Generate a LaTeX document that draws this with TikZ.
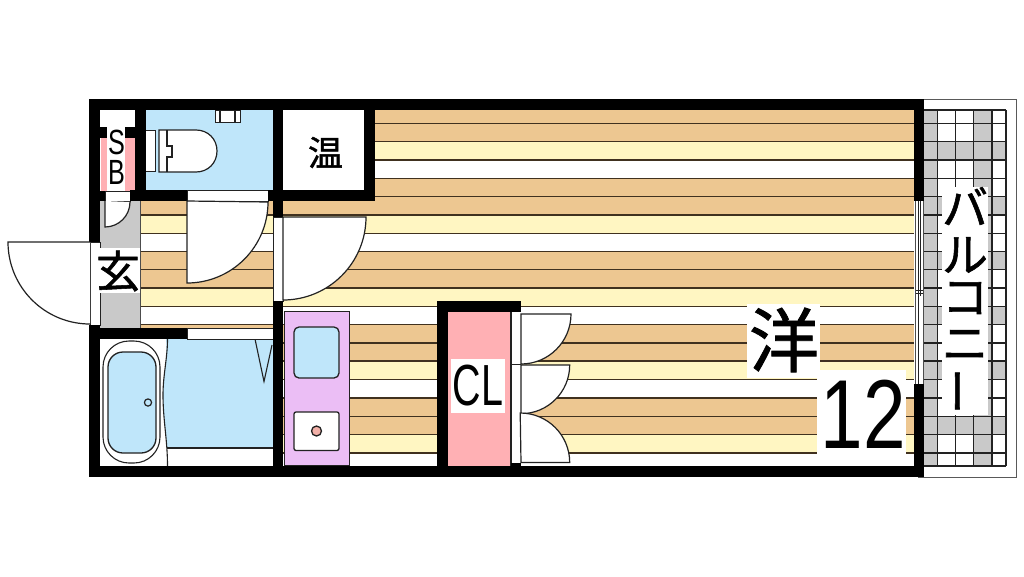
\documentclass[tikz,border=0pt]{standalone}
\usepackage{graphicx}
\usepackage{fontspec}
\setmainfont{Liberation Sans}
\newfontfamily\jpfont[FakeBold=1.2]{Noto Sans CJK JP}
\definecolor{tan}{HTML}{EDC791}
\definecolor{cream}{HTML}{FFF6C2}
\definecolor{brownline}{HTML}{40311F}
\definecolor{skyb}{HTML}{BFE6FA}
\definecolor{grayf}{HTML}{C9C9C9}
\definecolor{pinkf}{HTML}{FFB0B4}
\definecolor{purplef}{HTML}{EBBEF5}
\definecolor{burner}{HTML}{F2B0A8}
\definecolor{linec}{HTML}{222222}
\tikzset{
  wall/.style={fill=black,draw=none},
  thin line/.style={draw=linec,line width=1.1pt},
  door/.style={fill=white,draw=linec,line width=1.2pt},
  frame/.style={fill=white,draw=linec,line width=0.9pt},
  label/.style={inner sep=0pt,outer sep=0pt,text=black},
  bg/.style={fill=white,draw=none}
}
\begin{document}
\begin{tikzpicture}[x=1pt,y=-1pt]
\useasboundingbox[fill=white] (0,0) rectangle (1024,576);
% floor stripes
\foreach \a/\b/\c in {110/141.7/tan,141.7/160/cream,160/178.2/white,178.2/215/tan,215/233.2/cream,233.2/251.5/white,251.5/288/tan,288/306.5/cream,306.5/324.5/white,324.5/361/tan,361/379.3/cream,379.3/398/white,398/434.7/tan,434.7/453/cream,453/466/white}
  \fill[\c] (140,\a) rectangle (914,\b);
\foreach \y in {123.5,141.7,160,178.2,196.6,215,233.2,251.5,269.5,288,306.5,324.5,343,361,379.3,398,416.3,434.7,453}
  \draw[brownline,line width=1.2pt] (140,\y) -- (914,\y);
% balcony
\draw[fill=white,draw=gray!70!black,line width=0.9pt] (918,99) rectangle (1016,477);
\foreach \xa/\xb in {924/937.7,973.7/992}
  \fill[grayf] (\xa,110) rectangle (\xb,466);
\foreach \a/\b in {141.7/160,196.6/215,251.5/269.5,306.5/324.5,361/379.3,416.3/434.7}
  \fill[grayf] (924,\a) rectangle (1006,\b);
\foreach \y in {110,123.5,141.7,160,178.2,196.6,215,233.2,251.5,269.5,288,306.5,324.5,343,361,379.3,398,416.3,434.7,453,466}
  \draw[linec,line width=1.2pt] (924,\y) -- (1006,\y);
\foreach \x in {937.7,955.5,973.7,992,1006}
  \draw[linec,line width=1.2pt] (\x,110) -- (\x,466);
\fill[bg] (941.5,187) rectangle (988,414.5);
% toilet room
\fill[skyb] (146,110) rectangle (273,190);
\draw[frame] (215,110) rectangle (240,122.5);
\draw[thin line] (220,110) -- (220,122.5) (235,110) -- (235,122.5);
\draw[frame] (146,130) -- (155,130) -- (155,171.7) -- (146,171.7);
\draw[door] (159,130) -- (196,130) .. controls (208,130) and (217,139) .. (217,151) .. controls (217,163) and (208,172) .. (196,172) -- (159,172) -- cycle;
\draw[thin line] (167,130) -- (167,146) -- (172,146) -- (172,157) -- (167,157) -- (167,172);
% onsui room
\fill[white] (283,110) rectangle (364,190);
% genkan
\fill[grayf] (100,201) rectangle (140,328);
\draw[gray!60!black,line width=0.8pt] (140,201) -- (140,328);
% SB
\fill[white] (100.5,110) rectangle (135,127);
\fill[pinkf] (100.5,138) rectangle (135,191);
\fill[white] (107,127) rectangle (125,191);
% bath
\fill[white] (100,339) rectangle (273,466);
\fill[skyb] (166,339) .. controls (168,360) and (163,375) .. (163,395) .. controls (163,415) and (166,430) .. (167,448) -- (273,448) -- (273,339) -- cycle;
\draw[thin line] (167.5,339) .. controls (167.5,358) and (163,375) .. (163,395) .. controls (163,420) and (167.5,440) .. (167.5,466);
\draw[thin line] (167,448) -- (273,448);
\draw[thin line] (255,339) -- (264,381.5) -- (272,345);
\draw[thin line,rounded corners=26pt] (103,341) rectangle (160,463);
\draw[fill=skyb,draw=linec,line width=1.3pt,rounded corners=15pt] (108,352) rectangle (156,453);
\draw[draw=linec,line width=1.2pt,fill=skyb] (148,402.5) circle[radius=3.6];
% frames/openings
\draw[frame] (187,328) rectangle (273,339);
\draw[frame] (187,190) rectangle (268,201);
\draw[frame] (273,217) rectangle (283,301);
\draw[frame] (105,191) rectangle (130,201);
\draw[frame] (90,242) rectangle (100,325);
% window
\fill[white] (914,201) rectangle (924,384);
\draw[gray!60!black,line width=0.9pt] (915,201) -- (915,384) (923.5,201) -- (923.5,384);
\draw[linec,line width=0.7pt] (918,201) -- (918,296) (920.5,201) -- (920.5,296) (918,288) -- (918,384) (915.5,290) -- (923,290) (915.5,293) -- (923,293);
% walls
\fill[wall] (89,99) rectangle (924,110);
\fill[wall] (89,466) rectangle (924,477);
\fill[wall] (89,99) rectangle (100,242);
\fill[wall] (89,325) rectangle (100,477);
\fill[wall] (914,99) rectangle (924,201);
\fill[wall] (914,384) rectangle (924,477);
\fill[wall] (135,99) rectangle (146,201);
\fill[wall] (130,190) rectangle (187,201);
\fill[wall] (100,191) rectangle (105,201);
\fill[wall] (100,127) rectangle (107,138);
\fill[wall] (125,127) rectangle (135,138);
\fill[wall] (268,190) rectangle (375,201);
\fill[wall] (273,99) rectangle (283,217);
\fill[wall] (364,99) rectangle (375,201);
\fill[wall] (273,301) rectangle (283,477);
\fill[wall] (89,328) rectangle (187,339);
% kitchen
\draw[fill=purplef,draw=linec,line width=0.8pt] (284,311.5) rectangle (349,465.5);
\draw[fill=skyb,draw=linec,line width=1.3pt,rounded corners=5pt] (294,327) rectangle (339,378);
\draw[fill=white,draw=linec,line width=1.3pt,rounded corners=2pt] (294,412) rectangle (339,450.5);
\draw[fill=burner,draw=linec,line width=1.3pt] (316.5,431) circle[radius=5];
% closet
\fill[pinkf] (448,312) rectangle (511,466);
\fill[white] (511,312) rectangle (521,466);
\draw[thin line] (511,312) -- (511,466);
\fill[wall] (437,301) rectangle (448,477);
\fill[wall] (437,301) rectangle (521,312);
\fill[wall] (511,462.5) rectangle (521,466);
\draw[door] (521,314) -- (571,314) arc[start angle=0,end angle=90,radius=50] -- cycle;
\draw[door] (521,365) -- (569.7,365) arc[start angle=0,end angle=90,radius=48.7] -- cycle;
\draw[door] (521,462.5) -- (569.7,462.5) arc[start angle=0,end angle=-90,radius=49.5] -- cycle;
\draw[thin line] (511,364.7) -- (521,364.7);
% doors
\draw[door] (90,242) -- (8,242) arc[start angle=180,end angle=90,radius=82];
\draw[door] (105,201) -- (105,227) arc[start angle=90,end angle=0,radius=25];
\draw[door] (187,201) -- (187,283) arc[start angle=90,end angle=0,radius=81] -- cycle;
\draw[door] (283,217) -- (366,217) arc[start angle=0,end angle=90,radius=83] -- cycle;
% labels
\fill[bg] (98,248) rectangle (140,293);
\fill[bg] (451,359) rectangle (505,412.7);
\fill[bg] (747,304) rectangle (820,378);
\fill[bg] (817,370) rectangle (906,466);
\node[label] (sb) at (116.5,142) {\fontsize{35}{30}\selectfont\scalebox{0.72}[1]{S}};
\node[label] (sbb) at (116.5,172) {\fontsize{35}{30}\selectfont\scalebox{0.72}[1]{B}};
\node[label] (onsen) at (325.5,152.5) {\jpfont\fontsize{35}{35}\selectfont 温};
\node[label] (gen) at (118,271) {\jpfont\fontsize{44}{44}\selectfont 玄};
\node[label] (cl) at (478,386) {\fontsize{58}{58}\selectfont\scalebox{0.68}[1]{CL}};
\node[label] (you) at (784,340) {\jpfont\fontsize{70}{70}\selectfont 洋};
\node[label] (num) at (863,414) {\fontsize{98}{98}\selectfont\scalebox{0.78}[1]{12}};
\node[label] (b1) at (965,206) {\jpfont\fontsize{46}{46}\selectfont バ};
\node[label] (b2) at (965,255) {\jpfont\fontsize{46}{46}\selectfont ル};
\node[label] (b3) at (965,298) {\jpfont\fontsize{46}{46}\selectfont コ};
\node[label] (b4) at (965,345) {\jpfont\fontsize{46}{46}\selectfont ニ};
\node[label] (b5) at (965,391) {\jpfont\fontsize{46}{46}\selectfont\rotatebox{90}{ー}};
\end{tikzpicture}
\end{document}
